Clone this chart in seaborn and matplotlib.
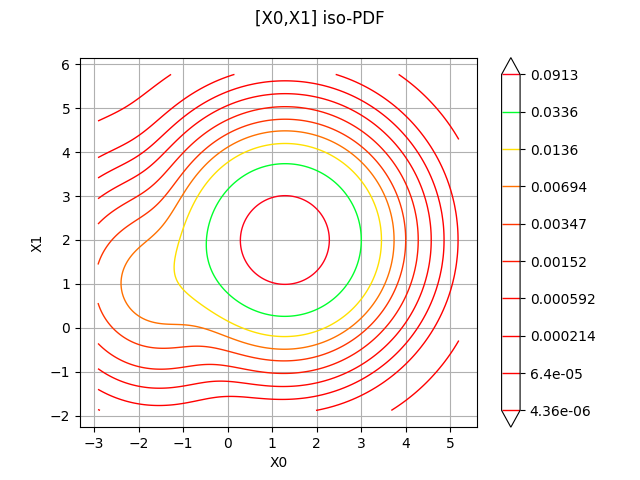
import numpy as np
import matplotlib
matplotlib.use("Agg")
import matplotlib.pyplot as plt
import seaborn as sns
from matplotlib.ticker import FormatStrFormatter

# Iso-PDF levels shown on the colorbar
levels = [4.36e-06, 6.4e-05, 0.000214, 0.000592, 0.00152,
          0.00347, 0.00694, 0.0136, 0.0336, 0.0913]

# Bivariate normal mixture
weights = [0.94, 0.06]
mean_x0 = [1.29, -1.57]
mean_x1 = [2.0, 1.0]
std_x0 = [0.985, 0.975]
std_x1 = [1.0, 1.0]

# Evaluation box of the iso-PDF
x0_range = [-2.91, 5.19]
x1_range = [-1.88, 5.77]
n_grid = 201

cmap = sns.color_palette("hsv", as_cmap=True)

gx = np.linspace(x0_range[0], x0_range[1], n_grid)
gy = np.linspace(x1_range[0], x1_range[1], n_grid)
X, Y = np.meshgrid(gx, gy)
Z = np.zeros_like(X)
for w, mx, my, sx, sy in zip(weights, mean_x0, mean_x1, std_x0, std_x1):
    Z += w * np.exp(-0.5 * (((X - mx) / sx) ** 2 + ((Y - my) / sy) ** 2)) / (2 * np.pi * sx * sy)

fig, ax = plt.subplots(figsize=(6.4, 4.8), dpi=100)
cs = ax.contour(X, Y, Z, levels=levels, cmap=cmap, linewidths=1.0, extend="both")
cb = fig.colorbar(cs, ax=ax)
cb.ax.yaxis.set_major_formatter(FormatStrFormatter("%.3g"))

dx = 0.05 * (x0_range[1] - x0_range[0])
dy = 0.05 * (x1_range[1] - x1_range[0])
ax.set_xlim(x0_range[0] - dx, x0_range[1] + dx)
ax.set_ylim(x1_range[0] - dy, x1_range[1] + dy)
ax.grid(True)
ax.set_xlabel("X0")
ax.set_ylabel("X1")
fig.suptitle("[X0,X1] iso-PDF")
fig.savefig("out.png", dpi=100)
